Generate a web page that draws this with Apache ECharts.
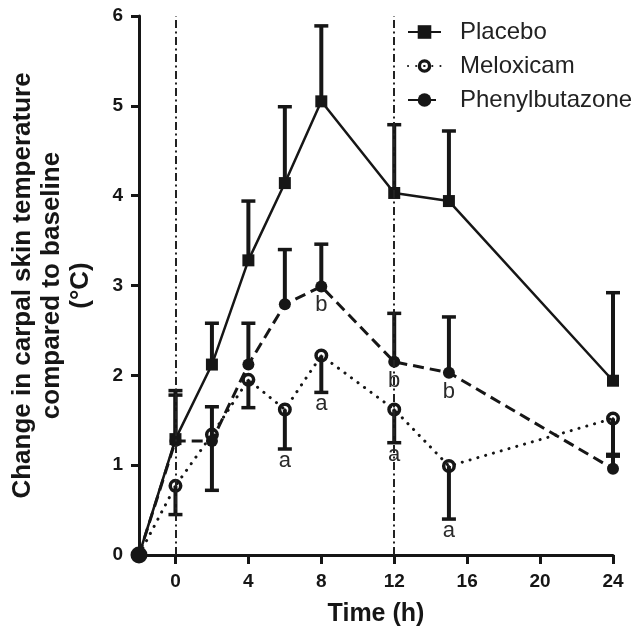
<!DOCTYPE html>
<html><head><meta charset="utf-8">
<script src="https://cdn.jsdelivr.net/npm/echarts@6/dist/echarts.min.js"></script>
<style>html,body{margin:0;padding:0;background:#fff}#c{width:642px;height:635px}</style>
</head><body><div id="c"></div>
<script>
// ---- data ----
const times = [-2, 0, 2, 4, 6, 8, 12, 15, 24];
const xTicks = [0, 4, 8, 12, 16, 20, 24];
const refLines = [0, 12];
const placebo      = [0, 1.29, 2.12, 3.28, 4.14, 5.05, 4.03, 3.94, 1.94];
const placeboSem   = [0, 0.54, 0.46, 0.66, 0.85, 0.84, 0.76, 0.78, 0.98];
const meloxicam    = [0, 0.77, 1.34, 1.95, 1.62, 2.22, 1.62, 0.99, 1.52];
const meloxicamSem = [0, 0.32, 0.62, 0.31, 0.44, 0.41, 0.37, 0.59, 0.40];
const phenyl       = [0, 1.27, 1.27, 2.12, 2.79, 2.99, 2.15, 2.03, 0.96];
const phenylSem    = [0, 0.51, 0.38, 0.46, 0.61, 0.47, 0.54, 0.62, 0.14];
const meloxicamLetters = ['', '', '', '', 'a', 'a', 'a', 'a', ''];
const phenylLetters    = ['', '', '', '', '', 'b', 'b', 'b', ''];

const FONT = "'Liberation Sans', Arial, Helvetica, sans-serif";
const INK = '#161616';
const ringPath = 'path://M0,-10A10,10 0 1,1 0,10A10,10 0 1,1 0,-10Z M0,-5A5,5 0 1,0 0,5A5,5 0 1,0 0,-5Z M0,-1.6A1.6,1.6 0 1,1 0,1.6A1.6,1.6 0 1,1 0,-1.6Z';

function pts(vals, firstItem) {
  return times.map((t, i) => i === 0 ? Object.assign({ value: [t, vals[i]] }, firstItem) : [t, vals[i]]);
}
function errSeries(vals, sem, dir) {
  return {
    type: 'custom', z: 2, silent: true, clip: false,
    data: times.map((t, i) => [t, vals[i], sem[i]]),
    encode: { x: 0, y: 1 },
    renderItem: function (params, api) {
      const x = api.value(0), m = api.value(1), e = api.value(2);
      if (!e) return null;
      const p0 = api.coord([x, m]);
      const p1 = api.coord([x, m + dir * e]);
      return { type: 'group', children: [
        { type: 'line', shape: { x1: p0[0], y1: p0[1], x2: p1[0], y2: p1[1] }, style: { stroke: INK, lineWidth: 4 } },
        { type: 'line', shape: { x1: p1[0] - 7, y1: p1[1], x2: p1[0] + 7, y2: p1[1] }, style: { stroke: INK, lineWidth: 3.5 } }
      ]};
    }
  };
}
function letterSeries(anchorVals, letters, offset) {
  return {
    type: 'custom', z: 5, silent: true, clip: false,
    data: times.map((t, i) => [t, anchorVals[i]]),
    encode: { x: 0, y: 1 },
    renderItem: function (params, api) {
      const txt = letters[params.dataIndex];
      if (!txt) return null;
      const p = api.coord([api.value(0), api.value(1)]);
      return { type: 'text', x: p[0], y: p[1] + offset,
        style: { text: txt, fontSize: 22, fontFamily: FONT, fill: '#2a2a2a', align: 'center', verticalAlign: 'middle' } };
    }
  };
}
const meloxLow = meloxicam.map((v, i) => v - meloxicamSem[i]);

const chart = echarts.init(document.getElementById('c'), null, { renderer: 'canvas' });
chart.setOption({
  animation: false,
  backgroundColor: '#fff',
  textStyle: { fontFamily: FONT },
  grid: { left: 133, right: 29, top: 16, bottom: 80, containLabel: false },
  legend: {
    data: ['Placebo', 'Meloxicam', 'Phenylbutazone'],
    orient: 'vertical', left: 402, top: 15,
    itemWidth: 33, itemHeight: 17, itemGap: 10,
    textStyle: { fontSize: 24, color: '#222', fontFamily: FONT, padding: [0, 0, 0, 14] }
  },
  xAxis: {
    type: 'value', min: -2, max: 24,
    name: 'Time (h)', nameLocation: 'middle', nameGap: 47,
    nameTextStyle: { fontSize: 25, fontWeight: 'bold', color: INK, fontFamily: FONT },
    axisLine: { show: true, onZero: false, lineStyle: { color: INK, width: 3 } },
    axisTick: { show: true, customValues: xTicks, length: 9, lineStyle: { color: INK, width: 3 } },
    axisLabel: { customValues: xTicks, fontSize: 19, fontWeight: 'bold', color: INK, margin: 17, fontFamily: FONT },
    splitLine: { show: false }
  },
  yAxis: {
    type: 'value', min: 0, max: 6, interval: 1,
    name: 'Change in carpal skin temperature\ncompared to baseline\n(°C)',
    nameLocation: 'middle', nameGap: 44, nameRotate: 90,
    nameTextStyle: { fontSize: 26, fontWeight: 'bold', color: INK, lineHeight: 29, align: 'center', fontFamily: FONT },
    axisLine: { show: true, onZero: false, lineStyle: { color: INK, width: 3 } },
    axisTick: { show: true, length: 8, lineStyle: { color: INK, width: 3 } },
    axisLabel: { fontSize: 19, fontWeight: 'bold', color: INK, margin: 16, fontFamily: FONT },
    splitLine: { show: false }
  },
  series: [
    errSeries(placebo, placeboSem, 1),
    errSeries(meloxicam, meloxicamSem, -1),
    errSeries(phenyl, phenylSem, 1),
    {
      name: 'Placebo', type: 'line', z: 3, clip: false, showAllSymbol: true,
      data: pts(placebo, { symbol: 'none' }),
      symbol: 'rect', symbolSize: 12,
      itemStyle: { color: INK },
      lineStyle: { color: INK, width: 2.5 },
      markLine: {
        silent: true, symbol: ['none', 'none'], label: { show: false },
        lineStyle: { color: '#222', width: 2, type: [8, 3.5, 2, 3.5] },
        data: refLines.map(v => ({ xAxis: v }))
      }
    },
    {
      name: 'Meloxicam', type: 'line', z: 4, clip: false, showAllSymbol: true,
      data: pts(meloxicam, { symbol: 'none' }),
      symbol: ringPath, symbolSize: 14,
      itemStyle: { color: INK },
      lineStyle: { color: INK, width: 3, type: [0.1, 8], cap: 'round' }
    },
    {
      name: 'Phenylbutazone', type: 'line', z: 4, clip: false, showAllSymbol: true,
      data: pts(phenyl, { symbolSize: 17 }),
      symbol: 'circle', symbolSize: 12,
      itemStyle: { color: INK },
      lineStyle: { color: INK, width: 3, type: [11, 6] }
    },
    letterSeries(meloxLow, meloxicamLetters, 12),
    letterSeries(phenyl, phenylLetters, 19)
  ]
});
</script>
</body></html>
